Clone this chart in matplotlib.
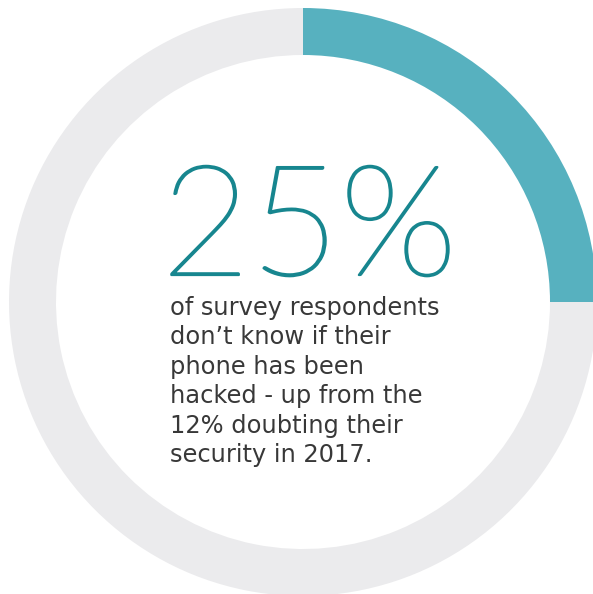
import os
import matplotlib
import matplotlib.pyplot as plt
import matplotlib.patheffects as pe
from matplotlib.font_manager import FontProperties

# share of respondents
values = [25, 75]
colors = ["#57b1bf", "#ebebed"]

big_label = "25%"
body_lines = [
    "of survey respondents",
    "don\u2019t know if their",
    "phone has been",
    "hacked - up from the",
    "12% doubting their",
    "security in 2017.",
]

W, H = 593, 594
fig = plt.figure(figsize=(W / 100, H / 100), dpi=100)
ax = fig.add_axes([0, 0, 1, 1])

cx, cy = 303, H - 302
r_out = 294
ring = 47

ax.pie(values, colors=colors, startangle=90, counterclock=False,
       center=(cx, cy), radius=r_out,
       wedgeprops=dict(width=ring, linewidth=0))

ax.set_xlim(0, W)
ax.set_ylim(0, H)
ax.set_aspect("auto")
ax.axis("off")

teal = "#17868f"
ax.text(161, H - 275, big_label, fontsize=111, family="Lato",
        fontweight="light", color=teal, ha="left", va="baseline",
        path_effects=[pe.withStroke(linewidth=1.6, foreground=teal)])

# body text in the bundled DejaVu Sans so the face is always the same
body_font = FontProperties(
    fname=os.path.join(matplotlib.get_data_path(), "fonts", "ttf", "DejaVuSans.ttf"),
    size=17.4)

y0 = H - 315
for i, line in enumerate(body_lines):
    ax.text(170, y0 - i * 29.4, line, fontproperties=body_font,
            color="#383838", ha="left", va="baseline")

fig.savefig("out.png", dpi=100)
